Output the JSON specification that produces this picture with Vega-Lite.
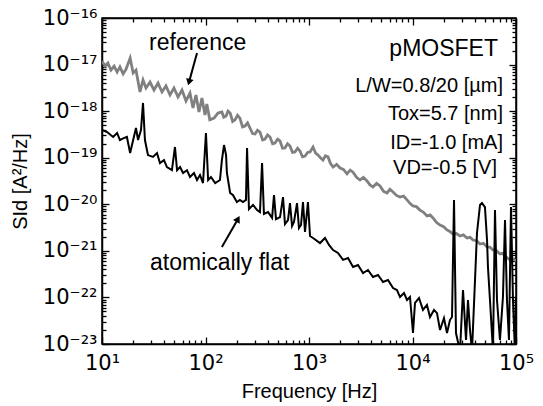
{
  "$schema": "https://vega.github.io/schema/vega-lite/v6.json",
  "width": 414,
  "height": 326,
  "autosize": {"type": "none"},
  "padding": {"left": 102, "top": 18, "right": 27, "bottom": 62},
  "background": "white",
  "config": {
    "view": {"stroke": "black", "strokeWidth": 1.5},
    "font": "Liberation Sans",
    "axis": {
      "grid": false,
      "domainColor": "black",
      "domainWidth": 1.5,
      "tickColor": "black",
      "tickWidth": 1.3,
      "labelFont": "DejaVu Sans",
      "labelFontSize": 21,
      "labelColor": "black",
      "labelFlush": false,
      "labelOverlap": false,
      "titleFont": "Liberation Sans",
      "titleFontSize": 20,
      "titleFontWeight": "normal",
      "titleColor": "black"
    }
  },
  "datasets": {
    "reference": [
      {"f":10,"S":1.19e-17},{"f":10.7,"S":9.3e-18},{"f":11.4,"S":1.08e-17},{"f":12.2,"S":7.6e-18},{"f":13.1,"S":9.3e-18},{"f":14.0,"S":6.9e-18},{"f":14.9,"S":8.9e-18},{"f":16.0,"S":6.3e-18},{"f":17.1,"S":8.0e-18},{"f":18.7,"S":1.38e-17},{"f":20.0,"S":6.6e-18},{"f":21.3,"S":7.6e-18},{"f":23.3,"S":2.58e-18},{"f":24.9,"S":4.67e-18},{"f":26.6,"S":3.14e-18},{"f":29.1,"S":4.2e-18},{"f":31.8,"S":2.84e-18},{"f":34.8,"S":4.0e-18},{"f":38.0,"S":2.58e-18},{"f":41.5,"S":3.47e-18},{"f":45.4,"S":2.22e-18},{"f":49.6,"S":3.14e-18},{"f":54.2,"S":2.01e-18},{"f":59.3,"S":2.84e-18},{"f":64.8,"S":1.65e-18},{"f":70.8,"S":2.45e-18},{"f":75.7,"S":1.17e-18},{"f":80.9,"S":2.22e-18},{"f":86.5,"S":9.6e-19},{"f":92.4,"S":1.91e-18},{"f":98.9,"S":8.3e-19},{"f":103,"S":1.42e-18},{"f":110,"S":6.5e-19},{"f":121,"S":7.1e-19},{"f":132,"S":9.1e-19},{"f":144,"S":9.6e-19},{"f":150,"S":7.4e-19},{"f":158,"S":7.9e-19},{"f":165,"S":1.0e-18},{"f":173,"S":9.1e-19},{"f":183,"S":6.0e-19},{"f":193,"S":6.5e-19},{"f":204,"S":8.2e-19},{"f":215,"S":7.1e-19},{"f":228,"S":4.6e-19},{"f":241,"S":4.8e-19},{"f":255,"S":5.6e-19},{"f":269,"S":4.35e-19},{"f":285,"S":3.3e-19},{"f":301,"S":3.23e-19},{"f":318,"S":3.9e-19},{"f":336,"S":3.56e-19},{"f":356,"S":2.4e-19},{"f":376,"S":2.52e-19},{"f":398,"S":3.1e-19},{"f":420,"S":2.79e-19},{"f":445,"S":2.0e-19},{"f":469,"S":2.07e-19},{"f":497,"S":2.5e-19},{"f":525,"S":2.29e-19},{"f":555,"S":1.6e-19},{"f":586,"S":1.62e-19},{"f":620,"S":2.0e-19},{"f":655,"S":1.78e-19},{"f":693,"S":1.3e-19},{"f":732,"S":1.33e-19},{"f":775,"S":1.6e-19},{"f":818,"S":1.39e-19},{"f":865,"S":1.05e-19},{"f":915,"S":1.09e-19},{"f":970,"S":1.3e-19},{"f":1023,"S":1.33e-19},{"f":1094,"S":1.70e-19},{"f":1160,"S":1.25e-19},{"f":1223,"S":1.14e-19},{"f":1290,"S":1.0e-19},{"f":1366,"S":8.9e-20},{"f":1440,"S":1.1e-19},{"f":1527,"S":1.04e-19},{"f":1610,"S":7.6e-20},{"f":1708,"S":6.3e-20},{"f":1850,"S":7.2e-20},{"f":1995,"S":6.0e-20},{"f":2150,"S":5.6e-20},{"f":2330,"S":4.5e-20},{"f":2500,"S":5.4e-20},{"f":2663,"S":4.9e-20},{"f":2880,"S":3.8e-20},{"f":3110,"S":3.32e-20},{"f":3350,"S":3.8e-20},{"f":3634,"S":3.16e-20},{"f":3880,"S":2.6e-20},{"f":4151,"S":2.35e-20},{"f":4500,"S":2.8e-20},{"f":4853,"S":2.47e-20},{"f":5250,"S":1.9e-20},{"f":5670,"S":1.75e-20},{"f":6060,"S":2.1e-20},{"f":6485,"S":1.84e-20},{"f":7000,"S":1.55e-20},{"f":7576,"S":1.43e-20},{"f":8200,"S":1.5e-20},{"f":8852,"S":1.24e-20},{"f":9450,"S":1.05e-20},{"f":10110,"S":9.2e-21},{"f":10900,"S":8.9e-21},{"f":11800,"S":7.5e-21},{"f":12700,"S":6.8e-21},{"f":13800,"S":5.6e-21},{"f":14800,"S":5.9e-21},{"f":15780,"S":5.1e-21},{"f":17000,"S":4.1e-21},{"f":18450,"S":3.59e-21},{"f":20000,"S":3.3e-21},{"f":21550,"S":2.81e-21},{"f":23000,"S":2.6e-21},{"f":24650,"S":2.30e-21},{"f":26600,"S":2.35e-21},{"f":28770,"S":2.08e-21},{"f":31000,"S":2.2e-21},{"f":33630,"S":1.89e-21},{"f":36000,"S":1.95e-21},{"f":38460,"S":1.71e-21},{"f":41500,"S":1.65e-21},{"f":44900,"S":1.40e-21},{"f":48500,"S":1.45e-21},{"f":52500,"S":1.21e-21},{"f":56000,"S":1.2e-21},{"f":59940,"S":1.04e-21},{"f":65000,"S":1.0e-21},{"f":69980,"S":8.6e-22},{"f":74000,"S":8.9e-22},{"f":78300,"S":7.7e-22},{"f":83000,"S":7.0e-22},{"f":87500,"S":6.4e-22},{"f":93000,"S":6.8e-22},{"f":100000,"S":6.1e-22}
    ],
    "flat": [
      {"f":10,"S":3.94e-19},{"f":11.2,"S":3.56e-19},{"f":12.8,"S":2.79e-19},{"f":14.0,"S":3.40e-19},{"f":14.9,"S":2.40e-19},{"f":16.0,"S":2.6e-19},{"f":17.4,"S":2.79e-19},{"f":18.7,"S":1.26e-19},{"f":20.0,"S":2.40e-19},{"f":21.3,"S":4.35e-19},{"f":22.3,"S":2.40e-19},{"f":23.8,"S":3.94e-19},{"f":24.9,"S":1.50e-18},{"f":26.0,"S":2.40e-19},{"f":27.8,"S":1.14e-19},{"f":31.1,"S":1.04e-19},{"f":34.0,"S":1.26e-19},{"f":36.3,"S":7.7e-20},{"f":39.7,"S":8.9e-20},{"f":42.4,"S":6.3e-20},{"f":47.4,"S":5.4e-20},{"f":50.7,"S":1.70e-19},{"f":53.1,"S":5.4e-20},{"f":56.8,"S":6.3e-20},{"f":60.7,"S":4.7e-20},{"f":66.2,"S":5.4e-20},{"f":70.8,"S":3.85e-20},{"f":77.4,"S":4.7e-20},{"f":82.8,"S":3.32e-20},{"f":88.5,"S":4.25e-20},{"f":94.6,"S":2.86e-20},{"f":101,"S":3.4e-19},{"f":106,"S":3.32e-20},{"f":113,"S":3.85e-20},{"f":124,"S":2.86e-20},{"f":138,"S":3.32e-20},{"f":144,"S":8.9e-20},{"f":151,"S":1.87e-19},{"f":158,"S":1.14e-19},{"f":161,"S":4.7e-20},{"f":173,"S":1.75e-20},{"f":184,"S":1.58e-20},{"f":201,"S":1.12e-20},{"f":215,"S":1.24e-20},{"f":230,"S":1.12e-20},{"f":246,"S":1.24e-20},{"f":252,"S":1.62e-19},{"f":263,"S":7.9e-21},{"f":288,"S":9.7e-21},{"f":315,"S":7.5e-21},{"f":336,"S":6.8e-21},{"f":352,"S":7.7e-20},{"f":367,"S":6.2e-21},{"f":402,"S":6.8e-21},{"f":440,"S":5.1e-21},{"f":459,"S":1.58e-20},{"f":480,"S":4.8e-21},{"f":525,"S":5.3e-21},{"f":561,"S":1.43e-20},{"f":586,"S":3.77e-21},{"f":627,"S":4.6e-21},{"f":655,"S":1.06e-20},{"f":686,"S":3.42e-21},{"f":716,"S":4.17e-21},{"f":766,"S":1.06e-20},{"f":800,"S":3.10e-21},{"f":837,"S":3.59e-21},{"f":875,"S":1.12e-20},{"f":915,"S":2.54e-21},{"f":977,"S":1.12e-20},{"f":1023,"S":2.08e-21},{"f":1094,"S":1.89e-21},{"f":1277,"S":1.47e-21},{"f":1428,"S":1.89e-21},{"f":1560,"S":1.34e-21},{"f":1708,"S":1.04e-21},{"f":1905,"S":9.0e-22},{"f":2133,"S":6.4e-22},{"f":2383,"S":7.0e-22},{"f":2663,"S":4.5e-22},{"f":2974,"S":4.97e-22},{"f":3327,"S":3.34e-22},{"f":3716,"S":3.88e-22},{"f":4151,"S":2.74e-22},{"f":4645,"S":3.03e-22},{"f":5188,"S":2.14e-22},{"f":5800,"S":2.37e-22},{"f":6485,"S":1.59e-22},{"f":7080,"S":1.44e-22},{"f":7576,"S":1.02e-22},{"f":8280,"S":1.24e-22},{"f":8852,"S":8.8e-23},{"f":9460,"S":1.02e-22},{"f":10110,"S":1.72e-23},{"f":10570,"S":7.6e-23},{"f":11560,"S":9.7e-23},{"f":12620,"S":5.4e-23},{"f":13800,"S":6.9e-23},{"f":14760,"S":3.80e-23},{"f":16140,"S":5.4e-23},{"f":17250,"S":4.6e-23},{"f":18450,"S":2.0e-23},{"f":20140,"S":3.61e-23},{"f":21550,"S":1.72e-23},{"f":23010,"S":3.27e-23},{"f":24080,"S":3.80e-23},{"f":25180,"S":1.24e-20},{"f":26310,"S":1.72e-23},{"f":28770,"S":7e-24},{"f":30760,"S":1.44e-22},{"f":32890,"S":1.22e-23},{"f":34360,"S":8.8e-23},{"f":35950,"S":2.0e-23},{"f":37580,"S":7e-24},{"f":40180,"S":2.37e-22},{"f":41980,"S":2.42e-21},{"f":44900,"S":9.7e-21},{"f":46900,"S":1.06e-20},{"f":50120,"S":8.7e-21},{"f":52500,"S":1.71e-21},{"f":53580,"S":4.5e-22},{"f":56050,"S":8.8e-23},{"f":59940,"S":7e-24},{"f":62660,"S":7.5e-21},{"f":65510,"S":8.8e-23},{"f":69980,"S":1.22e-23},{"f":74800,"S":1.02e-22},{"f":78300,"S":4.6e-21},{"f":81800,"S":8.8e-23},{"f":85500,"S":1.22e-23},{"f":89500,"S":8.7e-21},{"f":93500,"S":8.8e-23},{"f":97700,"S":7e-24},{"f":100000,"S":1.02e-22}
    ],
    "one": [{"n": 1}]
  },
  "layer": [
    {
      "data": {"name": "reference"},
      "mark": {"type": "line", "color": "#808080", "strokeWidth": 2.8, "clip": true},
      "encoding": {
        "x": {
          "field": "f", "type": "quantitative",
          "scale": {"type": "log", "domain": [10, 100000], "nice": false},
          "axis": {
            "orient": "bottom",
            "title": "Frequency [Hz]",
            "titlePadding": 5,
            "values": [10,20,30,40,50,60,70,80,90,100,200,300,400,500,600,700,800,900,1000,2000,3000,4000,5000,6000,7000,8000,9000,10000,20000,30000,40000,50000,60000,70000,80000,90000,100000],
            "labelExpr": "datum.value == 10 ? '10¹' : datum.value == 100 ? '10²' : datum.value == 1000 ? '10³' : datum.value == 10000 ? '10⁴' : datum.value == 100000 ? '10⁵' : ''",
            "tickSize": {"condition": {"test": "indexof([10,100,1000,10000,100000], datum.value) >= 0", "value": -7}, "value": -4},
            "labelPadding": 15
          }
        },
        "y": {
          "field": "S", "type": "quantitative",
          "scale": {"type": "log", "domain": [1e-23, 1e-16], "nice": false},
          "axis": {
            "orient": "left",
            "title": "SId [A²/Hz]",
            "titlePadding": 12,
            "values": [1e-23,2e-23,3e-23,4e-23,5e-23,6e-23,7e-23,8e-23,9e-23,1e-22,2e-22,3e-22,4e-22,5e-22,6e-22,7e-22,8e-22,9e-22,1e-21,2e-21,3e-21,4e-21,5e-21,6e-21,7e-21,8e-21,9e-21,1e-20,2e-20,3e-20,4e-20,5e-20,6e-20,7e-20,8e-20,9e-20,1e-19,2e-19,3e-19,4e-19,5e-19,6e-19,7e-19,8e-19,9e-19,1e-18,2e-18,3e-18,4e-18,5e-18,6e-18,7e-18,8e-18,9e-18,1e-17,2e-17,3e-17,4e-17,5e-17,6e-17,7e-17,8e-17,9e-17,1e-16],
            "labelExpr": "datum.value == 1e-16 ? '10⁻¹⁶' : datum.value == 1e-17 ? '10⁻¹⁷' : datum.value == 1e-18 ? '10⁻¹⁸' : datum.value == 1e-19 ? '10⁻¹⁹' : datum.value == 1e-20 ? '10⁻²⁰' : datum.value == 1e-21 ? '10⁻²¹' : datum.value == 1e-22 ? '10⁻²²' : datum.value == 1e-23 ? '10⁻²³' : ''",
            "tickSize": {"condition": {"test": "indexof([1e-16,1e-17,1e-18,1e-19,1e-20,1e-21,1e-22,1e-23], datum.value) >= 0", "value": -7}, "value": -4},
            "labelPadding": 12
          }
        }
      }
    },
    {
      "data": {"name": "flat"},
      "mark": {"type": "line", "color": "#000000", "strokeWidth": 2, "clip": true},
      "encoding": {
        "x": {
          "field": "f", "type": "quantitative",
          "axis": {
            "orient": "top", "title": null, "labels": false,
            "values": [10,20,30,40,50,60,70,80,90,100,200,300,400,500,600,700,800,900,1000,2000,3000,4000,5000,6000,7000,8000,9000,10000,20000,30000,40000,50000,60000,70000,80000,90000,100000],
            "tickSize": {"condition": {"test": "indexof([10,100,1000,10000,100000], datum.value) >= 0", "value": -7}, "value": -4}
          }
        },
        "y": {
          "field": "S", "type": "quantitative",
          "axis": {
            "orient": "right", "title": null, "labels": false,
            "values": [1e-23,2e-23,3e-23,4e-23,5e-23,6e-23,7e-23,8e-23,9e-23,1e-22,2e-22,3e-22,4e-22,5e-22,6e-22,7e-22,8e-22,9e-22,1e-21,2e-21,3e-21,4e-21,5e-21,6e-21,7e-21,8e-21,9e-21,1e-20,2e-20,3e-20,4e-20,5e-20,6e-20,7e-20,8e-20,9e-20,1e-19,2e-19,3e-19,4e-19,5e-19,6e-19,7e-19,8e-19,9e-19,1e-18,2e-18,3e-18,4e-18,5e-18,6e-18,7e-18,8e-18,9e-18,1e-17,2e-17,3e-17,4e-17,5e-17,6e-17,7e-17,8e-17,9e-17,1e-16],
            "tickSize": {"condition": {"test": "indexof([1e-16,1e-17,1e-18,1e-19,1e-20,1e-21,1e-22,1e-23], datum.value) >= 0", "value": -7}, "value": -4}
          }
        }
      }
    },
    {
      "data": {"name": "one"},
      "mark": {"type": "text", "text": "reference", "fontSize": 23, "align": "left", "baseline": "alphabetic", "color": "black"},
      "encoding": {"x": {"datum": 28.5, "type": "quantitative", "axis": null}, "y": {"datum": 2.06e-17, "type": "quantitative", "axis": null}}
    },
    {
      "data": {"name": "one"},
      "mark": {"type": "text", "text": "atomically flat", "fontSize": 23, "align": "left", "baseline": "alphabetic", "color": "black"},
      "encoding": {"x": {"datum": 29.1, "type": "quantitative", "axis": null}, "y": {"datum": 3.88e-22, "type": "quantitative", "axis": null}}
    },
    {
      "data": {"name": "one"},
      "mark": {"type": "text", "text": "pMOSFET", "fontSize": 23, "align": "right", "baseline": "alphabetic", "color": "black"},
      "encoding": {"x": {"datum": 67000, "type": "quantitative", "axis": null}, "y": {"datum": 1.53e-17, "type": "quantitative", "axis": null}}
    },
    {
      "data": {"name": "one"},
      "mark": {"type": "text", "text": "L/W=0.8/20 [µm]", "fontSize": 20, "align": "right", "baseline": "alphabetic", "color": "black"},
      "encoding": {"x": {"datum": 74800, "type": "quantitative", "axis": null}, "y": {"datum": 2.58e-18, "type": "quantitative", "axis": null}}
    },
    {
      "data": {"name": "one"},
      "mark": {"type": "text", "text": "Tox=5.7 [nm]", "fontSize": 20, "align": "right", "baseline": "alphabetic", "color": "black"},
      "encoding": {"x": {"datum": 74800, "type": "quantitative", "axis": null}, "y": {"datum": 6.45e-19, "type": "quantitative", "axis": null}}
    },
    {
      "data": {"name": "one"},
      "mark": {"type": "text", "text": "ID=-1.0 [mA]", "fontSize": 20, "align": "right", "baseline": "alphabetic", "color": "black"},
      "encoding": {"x": {"datum": 74800, "type": "quantitative", "axis": null}, "y": {"datum": 1.54e-19, "type": "quantitative", "axis": null}}
    },
    {
      "data": {"name": "one"},
      "mark": {"type": "text", "text": "VD=-0.5 [V]", "fontSize": 20, "align": "right", "baseline": "alphabetic", "color": "black"},
      "encoding": {"x": {"datum": 65500, "type": "quantitative", "axis": null}, "y": {"datum": 4.47e-20, "type": "quantitative", "axis": null}}
    },
    {
      "data": {"name": "one"},
      "mark": {"type": "rule", "color": "black", "strokeWidth": 2},
      "encoding": {
        "x": {"datum": 82.8, "type": "quantitative", "axis": null}, "y": {"datum": 1.77e-17, "type": "quantitative", "axis": null},
        "x2": {"datum": 69.3}, "y2": {"datum": 4.2e-18}
      }
    },
    {
      "data": {"name": "one"},
      "mark": {"type": "point", "shape": "triangle-up", "filled": true, "color": "black", "size": 60, "angle": 195, "opacity": 1},
      "encoding": {"x": {"datum": 69.3, "type": "quantitative", "axis": null}, "y": {"datum": 4.2e-18, "type": "quantitative", "axis": null}}
    },
    {
      "data": {"name": "one"},
      "mark": {"type": "rule", "color": "black", "strokeWidth": 2},
      "encoding": {
        "x": {"datum": 144, "type": "quantitative", "axis": null}, "y": {"datum": 1.21e-21, "type": "quantitative", "axis": null},
        "x2": {"datum": 206}, "y2": {"datum": 4.83e-21}
      }
    },
    {
      "data": {"name": "one"},
      "mark": {"type": "point", "shape": "triangle-up", "filled": true, "color": "black", "size": 60, "angle": 29, "opacity": 1},
      "encoding": {"x": {"datum": 206, "type": "quantitative", "axis": null}, "y": {"datum": 4.83e-21, "type": "quantitative", "axis": null}}
    }
  ],
  "resolve": {"axis": {"x": "independent", "y": "independent"}}
}
